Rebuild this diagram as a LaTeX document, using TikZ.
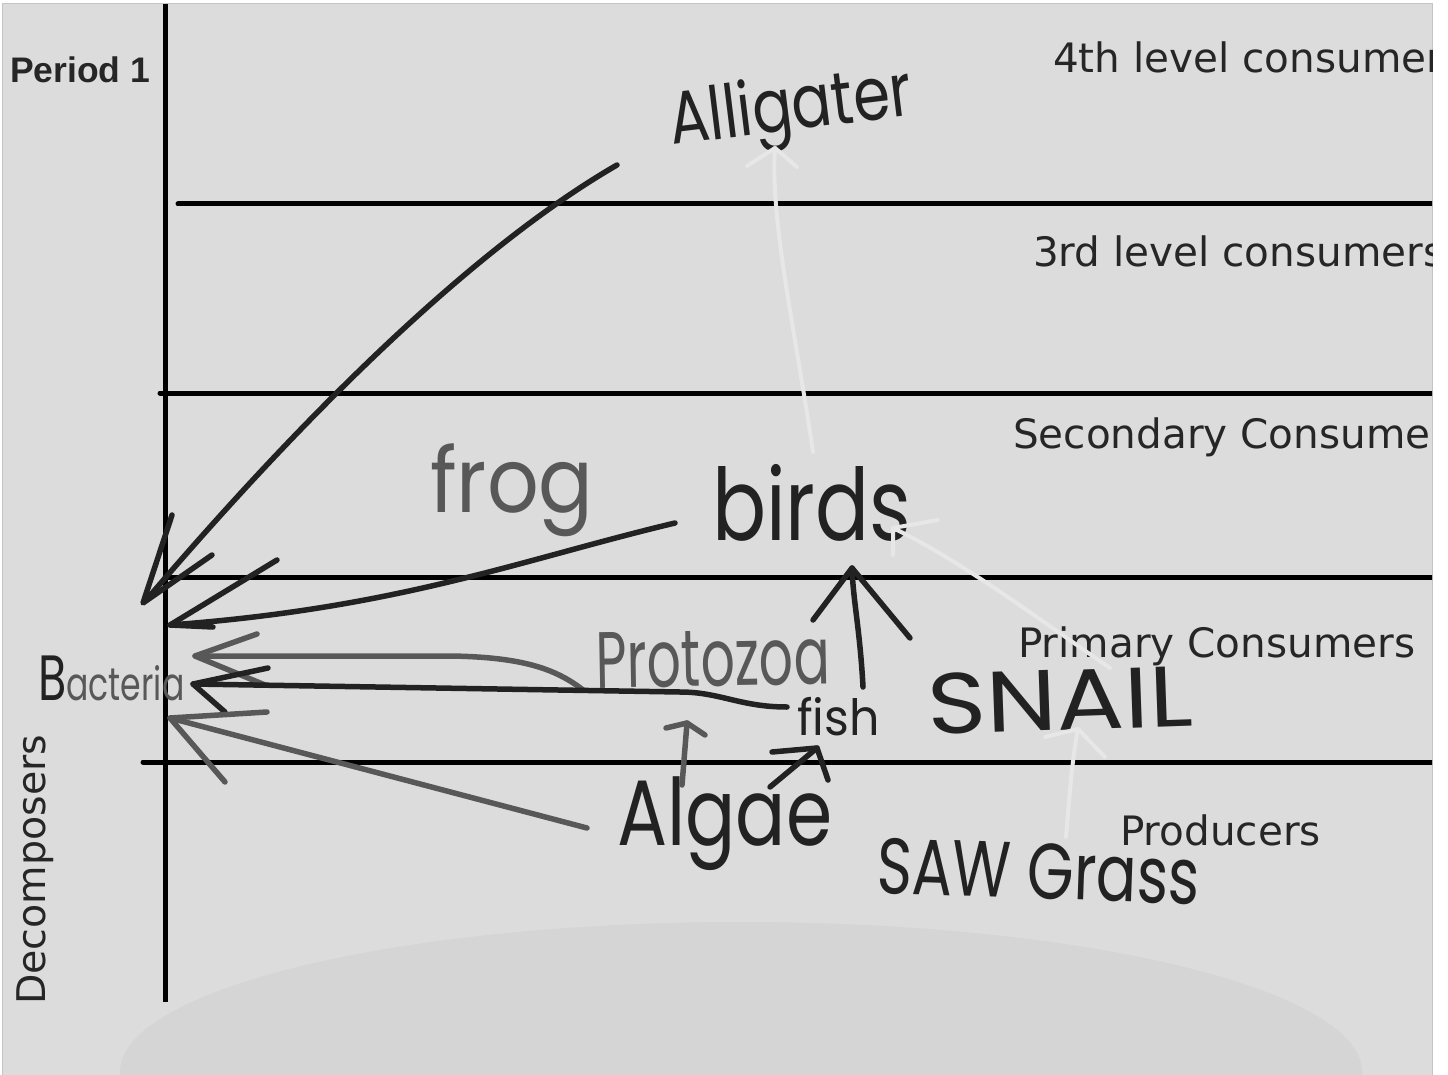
\documentclass[tikz,border=0pt]{standalone}
\usepackage{fontspec}
\setmainfont{DejaVu Sans}
\newfontfamily\periodfont{Liberation Sans}
\newfontfamily\handfont{Poppins}
\definecolor{panel}{HTML}{DCDCDC}
\definecolor{panelborder}{HTML}{C4C4C4}
\definecolor{blob}{HTML}{D5D5D5}
\definecolor{ink}{HTML}{222222}
\definecolor{pencil}{HTML}{585858}
\definecolor{faint}{HTML}{E7E7E7}
\definecolor{labelink}{HTML}{262626}
\tikzset{
  rule/.style={line width=5pt, draw=black},
  levellabel/.style={anchor=base west, inner sep=0, text=labelink, font=\fontsize{40.5}{44}\selectfont},
  hand/.style={anchor=base west, inner sep=0, font=\handfont},
  inkline/.style={line width=5.5pt, draw=ink, line cap=round, line join=round},
  pencilline/.style={line width=5.5pt, draw=pencil, line cap=round, line join=round},
  faintline/.style={line width=4pt, draw=faint, line cap=round, line join=round},
}
\begin{document}
\begin{tikzpicture}[x=1pt,y=-1pt]
\useasboundingbox (0,0) rectangle (1448,1075);
\fill[white] (0,0) rectangle (1448,1075);
\fill[panel] (2,4) rectangle (1432,1075);
\draw[panelborder, line width=1pt] (2,1075) -- (2,4) -- (1432,4) -- (1432,1075);
\begin{scope}
\clip (2,4) rectangle (1432,1075);
\fill[blob] (741,1072) ellipse [x radius=621, y radius=150];
% frame lines
\draw[rule] (165,4) -- (165,1002);
\draw[rule, line cap=round] (178,204) -- (1440,204);
\draw[rule, line cap=round] (160,393) -- (1440,393);
\draw[rule, line cap=round] (165,577) -- (1440,577);
\draw[rule, line cap=round] (143,762) -- (1440,762);
% labels
\node[anchor=base west, inner sep=0, text=labelink, font=\periodfont\bfseries\fontsize{35.5}{40}\selectfont] (period) at (10,83) {Period 1};
\node[levellabel] (l4) at (1053,73) {4th level consumer};
\node[levellabel] (l3) at (1033,267) {3rd level consumers};
\node[levellabel] (l2) at (1013,448) {Secondary Consumer};
\node[levellabel] (l1) at (1018,657) {Primary Consumers};
\node[levellabel] (l0) at (1120,845) {Producers};
\node[levellabel, rotate=90, font=\fontsize{39.5}{44}\selectfont] (ld) at (45,1005) {Decomposers};
\end{scope}
% handwritten names
\node[hand, text=ink, rotate=7] (alligater) at (672,145) {\fontsize{74}{80}\selectfont\scalebox{0.8}[1]{Alligater}};
\node[hand, text=pencil] (frog) at (430,512) {\fontsize{90}{96}\selectfont\scalebox{0.9}[1]{frog}};
\node[hand, text=ink] (birds) at (712,540) {\fontsize{100}{110}\selectfont\scalebox{0.8}[1]{birds}};
\node[hand, text=pencil, rotate=1] (protozoa) at (596,688) {\fontsize{80}{88}\selectfont\scalebox{0.67}[1]{Protozoa}};
\node[hand, text=ink] (fish) at (797,735) {\fontsize{50}{56}\selectfont\scalebox{0.95}[1]{fish}};
\node[hand, text=ink, rotate=2] (snail) at (928,735) {\fontsize{86}{92}\selectfont\scalebox{1.17}[1]{SNAIL}};
\node[hand, text=ink] (algae) at (617,845) {\fontsize{93}{100}\selectfont\scalebox{0.8}[1]{Algae}};
\node[hand, text=ink, rotate=-2] (sawgrass) at (876,893) {\fontsize{79}{86}\selectfont\scalebox{0.76}[1]{SAW Grass}};
\node[hand] (bacteria) at (38,700) {\scalebox{0.72}[1]{\textcolor{ink}{\fontsize{64}{66}\selectfont B}\textcolor{pencil}{\fontsize{46}{50}\selectfont acteria}}};
% connector end points
\coordinate (allS) at (617,165);
\coordinate (tipA) at (143,603);
\coordinate (birS) at (675,523);
\coordinate (tipB) at (170,625);
\coordinate (proS) at (583,690);
\coordinate (tipC) at (195,656);
\coordinate (fisS) at (787,707);
\coordinate (tipD) at (193,684);
\coordinate (algS) at (587,828);
\coordinate (tipE) at (170,718);
\coordinate (algP) at (682,785);
\coordinate (tipF) at (687,723);
\coordinate (algF) at (770,787);
\coordinate (tipG) at (817,748);
\coordinate (fisB) at (863,687);
\coordinate (tipH) at (852,568);
\coordinate (birA) at (813,452);
\coordinate (tipI) at (775,148);
\coordinate (snaB) at (1110,668);
\coordinate (tipJ) at (893,528);
\coordinate (sawS) at (1066,837);
\coordinate (tipK) at (1078,729);
% to bacteria
\draw[inkline] (allS) .. controls (470,250) and (300,420) .. (148,598);
\draw[inkline] (tipA) ++(29,-88) -- (tipA) -- ++(69,-48);
\draw[inkline] (birS) .. controls (520,560) and (400,608) .. (tipB);
\draw[inkline] (tipB) ++(107,-65) -- (tipB) -- ++(43,2);
\draw[pencilline] (proS) .. controls (555,668) and (520,657) .. (450,656) -- (tipC);
\draw[pencilline] (tipC) ++(62,-22) -- (tipC) -- ++(70,29);
\draw[inkline] (fisS) .. controls (740,707) and (720,692) .. (680,692) -- (tipD);
\draw[inkline] (tipD) ++(75,-16) -- (tipD) -- ++(32,28);
\draw[pencilline] (algS) -- (tipE);
\draw[pencilline] (tipE) ++(97,-6) -- (tipE) -- ++(55,64);
% up the chain
\draw[pencilline] (algP) -- (tipF);
\draw[pencilline] (tipF) ++(-21,5) -- (tipF) -- ++(18,12);
\draw[inkline] (algF) -- (tipG);
\draw[inkline] (tipG) ++(-45,4) -- (tipG) -- ++(11,32);
\draw[inkline] (fisB) .. controls (860,630) and (853,600) .. (tipH);
\draw[inkline] (tipH) ++(-39,52) -- (tipH) -- ++(58,70);
\draw[faintline] (birA) .. controls (795,330) and (770,220) .. (tipI);
\draw[faintline] (tipI) ++(-28,18) -- (tipI) -- ++(22,19);
\draw[faintline] (snaB) .. controls (1040,620) and (960,560) .. (tipJ);
\draw[faintline] (tipJ) ++(45,-8) -- (tipJ) -- ++(0,27);
\draw[faintline] (sawS) .. controls (1070,790) and (1072,760) .. (tipK);
\draw[faintline] (tipK) ++(-33,8) -- (tipK) -- ++(27,28);
\end{tikzpicture}
\end{document}
